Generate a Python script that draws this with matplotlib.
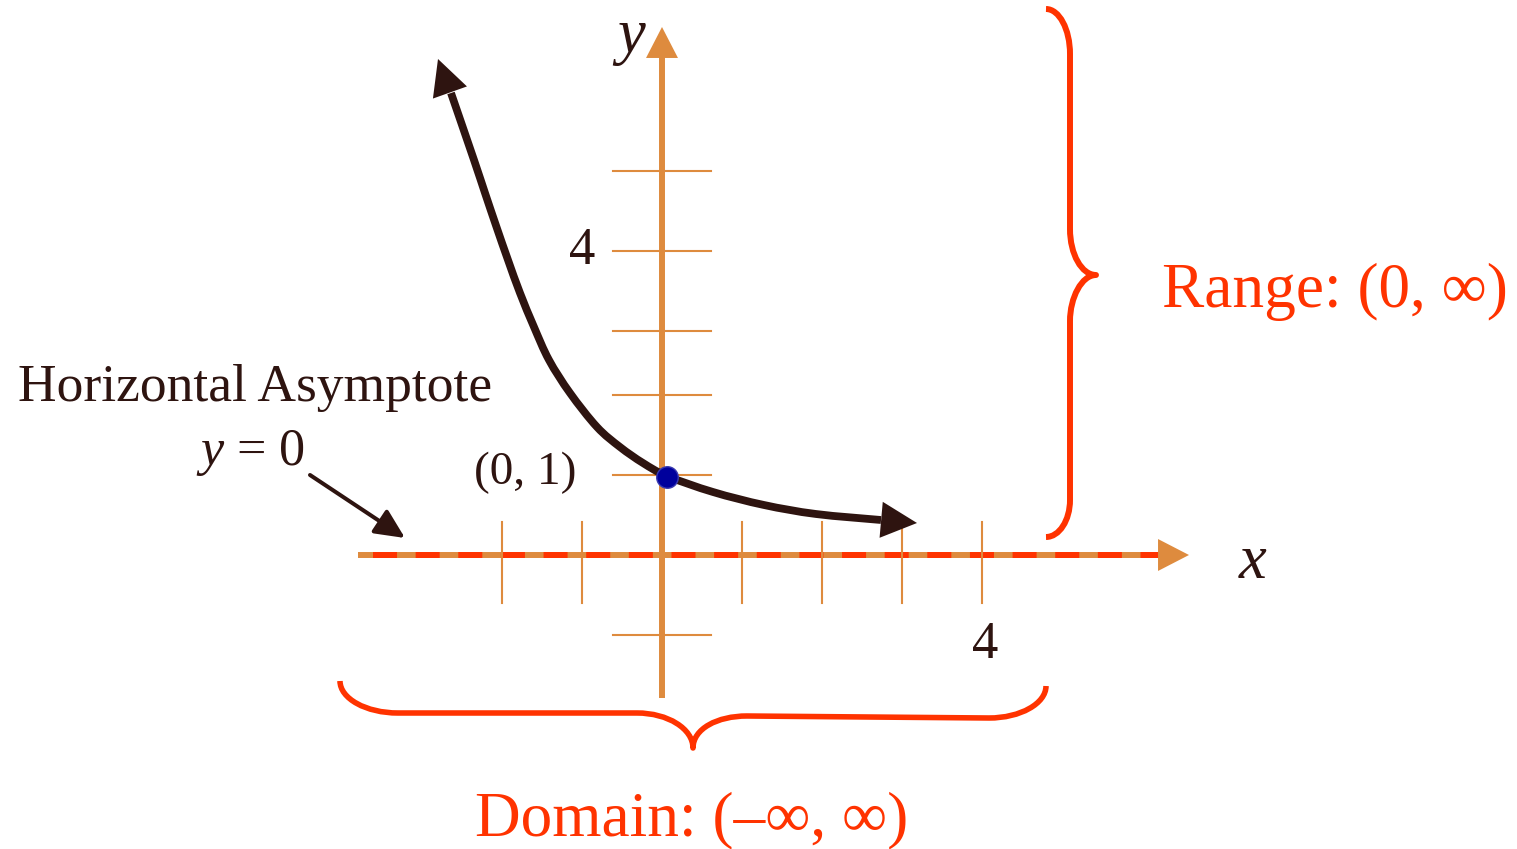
import matplotlib
matplotlib.use('Agg')
import matplotlib.pyplot as plt
from matplotlib.path import Path
from matplotlib.patches import PathPatch

# ---------------- data ----------------
curve_x = [-2.6375, -2.35, -2.2125, -2.06875, -1.925, -1.775, -1.6, -1.4125, -1.15,
           -0.8125, -0.525, -0.2375, 0.0625, 0.6375, 1.275, 1.925, 2.7375]
curve_y = [5.775, 4.9375, 4.525, 4.1, 3.6875, 3.275, 2.85, 2.4375, 2.025,
           1.6, 1.35, 1.15, 0.9875, 0.7875, 0.625, 0.5125, 0.4375]
tip_top = (-2.8, 6.2)
tip_right = (3.1875, 0.4)
point_x = [0.0625]
point_y = [0.975]
point_label = "(0, 1)"

xtick_vals = [-2, -1, 1, 2, 3, 4]
ytick_vals = [-1, 1, 2, 2.8, 3.8, 4.8]
xtick_label = "4"
ytick_label = "4"

# ---------------- style ----------------
plt.rcParams['font.family'] = ['Liberation Serif', 'DejaVu Serif']
plt.rcParams['mathtext.fontset'] = 'custom'
plt.rcParams['mathtext.rm'] = 'Liberation Serif'
plt.rcParams['mathtext.it'] = 'Liberation Serif:italic'
plt.rcParams['lines.scale_dashes'] = False

ORANGE = '#DE8B3E'
RED = '#FF3300'
DARK = '#2E1410'
BLUE = '#00009C'

fig = plt.figure(figsize=(15.17, 8.49), dpi=100)
ax = fig.add_axes([0, 0, 1, 1])
ax.set_xlim(-8.275, 10.6875)
ax.set_ylim(-3.675, 6.9375)
ax.axis('off')

AXLW = 4.3

# x axis (orange) with red dashed asymptote on top
ax.plot([-3.8, 6.22], [0, 0], color=ORANGE, lw=AXLW, solid_capstyle='butt', zorder=2)
ax.plot([-3.6125, 6.2125], [0, 0], color=RED, lw=AXLW, dashes=(17.3, 13.4),
        dash_capstyle='butt', zorder=3)
ax.annotate('', xy=(6.5875, 0), xytext=(5.5, 0),
            arrowprops=dict(arrowstyle='-|>,head_length=22.3,head_width=11.5',
                            mutation_scale=1, lw=0, color=ORANGE,
                            shrinkA=0, shrinkB=0), zorder=3)

# ticks
for xv in xtick_vals:
    ax.plot([xv, xv], [-0.6, 0.4125], color=ORANGE, lw=1.5, zorder=4)
for yv in ytick_vals:
    ax.plot([-0.6125, 0.6125], [yv, yv], color=ORANGE, lw=1.5, zorder=4)

# y axis
ax.plot([0, 0], [-1.7875, 6.22], color=ORANGE, lw=AXLW, solid_capstyle='butt', zorder=5)
ax.annotate('', xy=(0, 6.6), xytext=(0, 5.5),
            arrowprops=dict(arrowstyle='-|>,head_length=22.3,head_width=11.5',
                            mutation_scale=1, lw=0, color=ORANGE,
                            shrinkA=0, shrinkB=0), zorder=5)

# tick labels
ax.text(4.0375, -1.2875, xtick_label, fontsize=38, color=DARK, ha='center', va='baseline')
ax.text(-1.0, 3.6375, ytick_label, fontsize=38, color=DARK, ha='center', va='baseline')

# axis labels
ax.text(-0.4125, 6.2875, r'$y$', fontsize=45, color=DARK, ha='center', va='baseline')
ax.text(7.3875, -0.2875, r'$x$', fontsize=45, color=DARK, ha='center', va='baseline')

# curve: smooth path (Catmull-Rom drawn as cubic Bezier) through the read points
pts = list(zip(curve_x, curve_y))
verts = [pts[0]]
codes = [Path.MOVETO]
for i in range(len(pts) - 1):
    p0 = pts[i - 1] if i > 0 else pts[i]
    p1 = pts[i]
    p2 = pts[i + 1]
    p3 = pts[i + 2] if i + 2 < len(pts) else pts[i + 1]
    c1 = (p1[0] + (p2[0] - p0[0]) / 6, p1[1] + (p2[1] - p0[1]) / 6)
    c2 = (p2[0] - (p3[0] - p1[0]) / 6, p2[1] - (p3[1] - p1[1]) / 6)
    verts += [c1, c2, p2]
    codes += [Path.CURVE4] * 3
ax.add_patch(PathPatch(Path(verts, codes), fill=False, ec=DARK, lw=5.6,
                       capstyle='butt', joinstyle='round', zorder=6))
ax.annotate('', xy=tip_top, xytext=(curve_x[1], curve_y[1]),
            arrowprops=dict(arrowstyle='-|>,head_length=25.6,head_width=13',
                            mutation_scale=1, lw=0, color=DARK,
                            shrinkA=0, shrinkB=0), zorder=6)
ax.annotate('', xy=tip_right, xytext=(curve_x[-2], curve_y[-2]),
            arrowprops=dict(arrowstyle='-|>,head_length=25.9,head_width=13',
                            mutation_scale=1, lw=0, color=DARK,
                            shrinkA=0, shrinkB=0), zorder=6)

# point (0,1)
ax.plot(point_x, point_y, 'o', ms=15.5, mfc=BLUE, mec='#3A3AB0', mew=1, zorder=7)
ax.text(-1.7125, 0.8875, point_label, fontsize=34, color=DARK, ha='center', va='baseline')

# horizontal asymptote annotation
ax.text(-8.05, 1.925, 'Horizontal Asymptote', fontsize=38.5, color=DARK,
        ha='left', va='baseline')
ax.text(-5.1375, 1.125, r'$y$ = 0', fontsize=37.5, color=DARK, ha='center', va='baseline')
ax.annotate('', xy=(-3.2125, 0.2125), xytext=(-4.4, 1.0),
            arrowprops=dict(arrowstyle='-|>,head_length=18,head_width=8.5',
                            mutation_scale=1, lw=2.9, color=DARK,
                            shrinkA=0, shrinkB=0), zorder=6)

# braces
C4, L2 = Path.CURVE4, Path.LINETO
range_verts = [(4.8, 6.825),
               (4.965, 6.825), (5.1, 6.572), (5.1, 6.2625),
               (5.1, 4.075),
               (5.1, 3.759), (5.246, 3.5), (5.425, 3.5),
               (5.246, 3.5), (5.1, 3.216), (5.1, 2.925),
               (5.1, 0.6875),
               (5.1, 0.433), (4.965, 0.225), (4.8, 0.225)]
range_codes = [Path.MOVETO, C4, C4, C4, L2, C4, C4, C4, C4, C4, C4, L2, C4, C4, C4]
ax.add_patch(PathPatch(Path(range_verts, range_codes), fill=False, ec=RED, lw=4.3,
                       capstyle='butt', joinstyle='round'))

dom_verts = [(-4.025, -1.575),
             (-4.025, -1.795), (-3.699, -1.975), (-3.3, -1.975),
             (-0.3125, -1.975),
             (0.0725, -1.975), (0.3875, -2.172), (0.3875, -2.4125),
             (0.3875, -2.172), (0.691, -2.0125), (1.0625, -2.0125),
             (4.0875, -2.0375),
             (4.479, -2.0375), (4.8, -1.857), (4.8, -1.6375)]
dom_codes = [Path.MOVETO, C4, C4, C4, L2, C4, C4, C4, C4, C4, C4, L2, C4, C4, C4]
ax.add_patch(PathPatch(Path(dom_verts, dom_codes), fill=False, ec=RED, lw=4.0,
                       capstyle='butt', joinstyle='round'))

ax.text(6.25, 3.1, 'Range: (0, ∞)', fontsize=45.5, color=RED, ha='left', va='baseline')
ax.text(0.375, -3.5, 'Domain: (–∞, ∞)', fontsize=45.5, color=RED, ha='center', va='baseline')

fig.savefig('out.png', dpi=100)
